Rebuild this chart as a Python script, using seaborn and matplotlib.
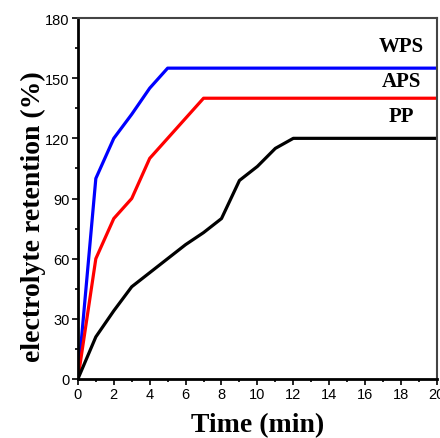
import numpy as np
import pandas as pd
import seaborn as sns
import matplotlib.pyplot as plt
from matplotlib.ticker import MultipleLocator

# datos
time_wps = [0, 1, 2, 3, 4, 5, 20]
ret_wps = [0, 100, 120, 132, 145, 155, 155]
time_aps = [0, 1, 2, 3, 4, 5, 6, 7, 20]
ret_aps = [0, 60, 80, 90, 110, 120, 130, 140, 140]
time_pp = [0, 1, 2, 3, 4, 5, 6, 7, 8, 9, 10, 11, 12, 20]
ret_pp = [0, 21, 34, 46, 53, 60, 67, 73, 80, 99, 106, 115, 120, 120]

series = ["WPS", "APS", "PP"]
colores = {"WPS": "#0000ff", "APS": "#ff0000", "PP": "#000000"}

frames = []
for nombre, t, r in [("WPS", time_wps, ret_wps), ("APS", time_aps, ret_aps), ("PP", time_pp, ret_pp)]:
	frames.append(pd.DataFrame({"time": t, "ret": r, "sample": nombre}))
df = pd.concat(frames)

sns.set_style("ticks")
plt.rcParams['font.family'] = ['Liberation Sans', 'DejaVu Sans']
plt.rcParams['text.color'] = 'black'
plt.rcParams['axes.labelcolor'] = 'black'
plt.rcParams['xtick.color'] = 'black'
plt.rcParams['ytick.color'] = 'black'

fig = plt.figure(figsize=(4.4, 4.39), dpi=100)
ax = fig.add_axes([0.177, 0.1344, 0.816, 0.8223])

sns.lineplot(data=df, x="time", y="ret", hue="sample", palette=colores, hue_order=series,
	linewidth=2.3, legend=False, ax=ax, estimator=None, sort=False)

ax.set_xlim(0, 20)
ax.set_ylim(0, 180)
ax.xaxis.set_major_locator(MultipleLocator(2))
ax.xaxis.set_minor_locator(MultipleLocator(1))
ax.yaxis.set_major_locator(MultipleLocator(30))
ax.yaxis.set_minor_locator(MultipleLocator(15))
ax.tick_params(which='major', direction='out', length=4, width=1.2, labelsize=10.5, pad=2)
ax.tick_params(which='minor', direction='out', length=2.5, width=1.2)
for s in ax.spines.values():
	s.set_linewidth(1.5)
ax.spines['left'].set_linewidth(2)
ax.spines['bottom'].set_linewidth(2)
ax.spines['left'].set_color('black')
ax.spines['bottom'].set_color('black')
ax.spines['top'].set_color('#444444')
ax.spines['right'].set_color('#444444')

serif = ['Liberation Serif', 'DejaVu Serif']
ax.set_xlabel("Time (min)", family=serif, fontweight='bold', fontsize=20, labelpad=8)
ax.set_ylabel("electrolyte retention (%)", family=serif, fontweight='bold', fontsize=20, labelpad=-1)
ax.yaxis.label.set_y(0.452)

for nombre, yy in [("WPS", 166), ("APS", 148.5), ("PP", 131)]:
	ax.text(18, yy, nombre, family=serif, fontweight='bold', fontsize=15, ha='center', va='center')

plt.savefig("out.png", dpi=100)
plt.close()
